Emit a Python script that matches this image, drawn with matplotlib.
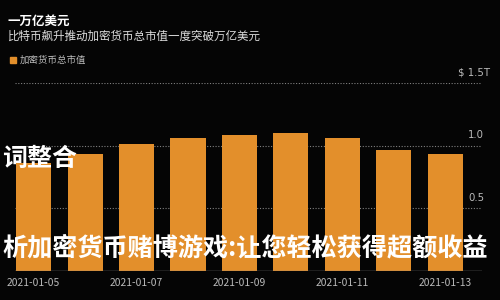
import numpy as np
import matplotlib
matplotlib.use("Agg")
import matplotlib.pyplot as plt
import matplotlib.dates as mdates

plt.rcParams['font.family'] = ['Noto Sans CJK SC', 'DejaVu Sans']

# data
dates = np.arange(np.datetime64('2021-01-05'), np.datetime64('2021-01-14'))
values = [0.86, 0.93, 1.01, 1.06, 1.085, 1.10, 1.06, 0.965, 0.93]  # trillion USD
tick_dates = dates[::2]
ytick_vals = [0.5, 1.0, 1.5]
ytick_labels = ['0.5', '1.0', '$ 1.5T']

title = '一万亿美元'
subtitle = '比特币飙升推动加密货币总市值一度突破万亿美元'
legend_label = '加密货币总市值'
overlay_top = '词整合'
overlay_bottom = '析加密货币赌博游戏:让您轻松获得超额收益'

bg = '#050505'
orange = '#E38F2B'

fig = plt.figure(figsize=(5, 3), dpi=100, facecolor=bg)
ax = fig.add_axes([15/500, 1 - 271/300, 467/500, 188/300])
ax.set_facecolor(bg)

ax.bar(dates, values, width=0.68, color=orange, zorder=2)

x0 = mdates.date2num(dates[0])
ax.set_xlim(x0 - 0.36, x0 + 8.71)
ax.set_ylim(0, 1.5)

for v in ytick_vals:
    ax.axhline(v, color='#808080', lw=0.8, ls=(0, (1, 1.5)), zorder=1)
ax.axhline(0, color='#888888', lw=1.0, zorder=3)

for v, lab in zip(ytick_vals, ytick_labels):
    xr = (490 - 15) / 467 if lab.startswith('$') else (484 - 15) / 467
    ax.text(xr, v + 0.045, lab,
            transform=ax.get_yaxis_transform(), ha='right', va='bottom',
            color='#bbbbbb', fontsize=7.3, family=['DejaVu Sans'])

ax.set_xticks(tick_dates)
ax.xaxis.set_major_formatter(mdates.DateFormatter('%Y-%m-%d'))
ax.tick_params(axis='x', length=0, colors='#bbbbbb', labelsize=7.4, pad=5)
ax.set_yticks([])
for s in ax.spines.values():
    s.set_visible(False)

fig.text(8/500, 1 - 21/300, title, color='white', fontsize=9, fontweight='bold', va='center')
fig.text(8/500, 1 - 36/300, subtitle, color='#dddddd', fontsize=8.3, va='center')
fig.patches.append(plt.Rectangle((10/500, 1 - 63/300), 6/500, 6/300,
                                 transform=fig.transFigure, color=orange))
fig.text(20/500, 1 - 60/300, legend_label, color='#bbbbbb', fontsize=6.8, va='center')

fig.text(2/500, 1 - 159/300, overlay_top, color='white', fontsize=18,
         fontweight='bold', va='center')
fig.text(2/500, 1 - 248/300, overlay_bottom, color='white', fontsize=18.1,
         fontweight='bold', va='center')

fig.savefig('out.png', dpi=100, facecolor=bg)
